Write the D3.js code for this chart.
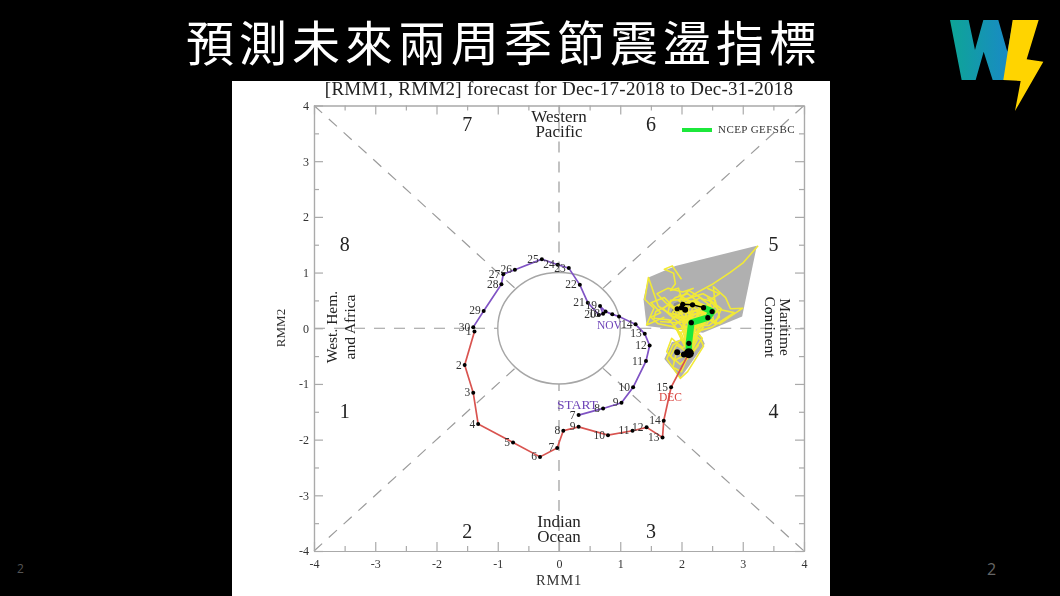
<!DOCTYPE html>
<html><head><meta charset="utf-8">
<script src="https://cdn.jsdelivr.net/npm/d3@7"></script>
<style>html,body{margin:0;padding:0;background:#000;overflow:hidden}svg{display:block}</style>
</head><body><svg id="c" width="1060" height="596"></svg>
<script>
const slideTitle = "預測未來兩周季節震盪指標";
const chartTitle = "[RMM1, RMM2] forecast for Dec-17-2018 to Dec-31-2018";
const majorTicks = [-4,-3,-2,-1,0,1,2,3,4];
const minorTicks = [-3.5,-2.5,-1.5,-0.5,0.5,1.5,2.5,3.5];

const purpleLabels = ["7","8","9","10","11","12","13","14","","","","19","18","20","21","22","23","24","25","26","27","28","29","30"];
const purpleX = [0.32,0.72,1.02,1.21,1.42,1.48,1.40,1.25,0.98,0.87,0.76,0.67,0.72,0.65,0.47,0.34,0.16,-0.02,-0.28,-0.72,-0.91,-0.94,-1.23,-1.40];
const purpleY = [-1.56,-1.44,-1.34,-1.06,-0.59,-0.31,-0.10,0.07,0.21,0.25,0.30,0.40,0.26,0.24,0.46,0.78,1.08,1.14,1.24,1.05,0.97,0.79,0.31,0.02];

const redLabels = ["1","2","3","4","5","6","7","8","9","10","11","12","13","14","15",""];
const redX = [-1.38,-1.54,-1.40,-1.32,-0.75,-0.31,-0.03,0.07,0.32,0.80,1.20,1.43,1.69,1.71,1.83,2.12];
const redY = [-0.06,-0.66,-1.16,-1.72,-2.05,-2.31,-2.15,-1.84,-1.77,-1.92,-1.84,-1.78,-1.96,-1.66,-1.06,-0.45];

const meanX = [2.12,2.12,2.16,2.43,2.50,2.36,2.18,2.02,2.00,1.93];
const meanY = [-0.45,-0.27,0.10,0.19,0.30,0.37,0.42,0.43,0.37,0.35];
const extraDotX = [1.93,2.04,2.06];
const extraDotY = [-0.43,-0.47,0.33];

const upperHull = [[3.23,1.48],[2.99,0.21],[2.35,-0.08],[1.43,0.04],[1.38,0.52],[1.46,0.91],[1.90,1.12]];
const lowerHull = [[1.72,-0.55],[1.98,-0.9],[2.38,-0.28],[2.30,-0.10],[1.84,-0.25]];

const memberTracks = [
 [[2.12,-0.45],[2.15,0.0],[2.0,0.45],[2.25,0.64],[2.52,0.80],[2.79,1.0],[3.01,1.18],[3.25,1.48]],
 [[2.12,-0.45],[2.2,0.1],[2.0,0.55],[1.95,0.72],[1.82,0.68],[1.90,0.80],[1.87,0.99],[1.72,1.06],[1.85,1.12],[2.0,0.88]],
 [[2.12,-0.45],[2.0,0.05],[1.75,0.30],[1.62,0.40],[1.46,0.91],[1.40,0.52],[1.55,0.36],[1.43,0.06],[1.72,0.20]],
 [[2.12,-0.45],[2.3,0.0],[2.55,0.42],[2.52,0.75],[2.72,0.55],[2.80,0.35],[3.0,0.36],[2.62,0.08],[2.3,0.2]],
 [[2.12,-0.45],[2.25,-0.15],[2.32,-0.22],[2.36,-0.32],[2.1,-0.78],[1.98,-0.9],[1.76,-0.55],[1.86,-0.30],[2.0,-0.2]],
 [[2.12,-0.45],[1.92,-0.30],[1.82,-0.50],[1.98,-0.65],[2.15,-0.48],[2.28,-0.30]],
 [[2.12,-0.45],[2.05,-0.12],[2.28,-0.08],[2.36,0.02],[2.1,0.12],[1.9,0.1],[1.65,0.12]],
 [[2.12,-0.45],[2.0,-0.1],[1.86,0.03],[2.05,0.2],[1.75,0.45],[1.6,0.62],[1.78,0.72],[2.02,0.65],[2.2,0.72]],
 [[2.12,-0.45],[2.2,0.05],[2.45,0.05],[2.62,0.2],[2.55,0.5],[2.35,0.62],[2.15,0.55],[1.95,0.5]],
 [[2.12,-0.45],[2.1,0.1],[1.85,0.22],[1.7,0.35],[1.9,0.55],[2.1,0.62],[2.3,0.45],[2.5,0.35],[2.45,0.12]],
 [[2.12,-0.45],[2.25,0.1],[2.4,0.3],[2.2,0.5],[1.98,0.42],[1.85,0.28],[2.05,0.15],[2.3,0.2],[2.48,0.45]],
 [[2.12,-0.45],[2.05,0.08],[2.2,0.2],[2.35,0.12],[2.58,0.3],[2.42,0.42],[2.2,0.3],[2.0,0.3],[1.78,0.1]],
 [[2.12,-0.45],[2.18,0.0],[2.0,0.2],[1.78,0.28],[1.82,0.5],[2.05,0.52],[2.28,0.38],[2.45,0.25],[2.25,0.05]],
 [[2.12,-0.45],[2.12,-0.05],[2.3,0.15],[2.52,0.15],[2.48,0.4],[2.3,0.55],[2.1,0.42],[1.9,0.38],[1.92,0.18]],
 [[2.12,-0.45],[2.2,-0.1],[2.08,0.15],[2.22,0.32],[2.4,0.22],[2.55,0.08],[2.65,0.35],[2.42,0.55]],
 [[2.12,-0.45],[1.95,-0.05],[1.8,0.15],[1.55,0.18],[1.58,0.3],[1.8,0.42],[2.0,0.25],[2.15,0.4],[2.35,0.28]],
 [[2.12,-0.45],[2.22,-0.02],[2.42,0.2],[2.28,0.42],[2.05,0.35],[2.2,0.15],[2.38,0.35],[2.15,0.48],[1.95,0.6]],
 [[2.12,-0.45],[2.02,-0.25],[1.95,-0.08],[2.2,-0.02],[2.34,-0.18],[2.2,-0.4],[2.05,-0.6],[2.15,-0.3]],
 [[2.12,-0.45],[1.88,-0.58],[1.76,-0.42],[1.84,-0.18],[2.02,-0.35],[2.2,-0.18],[2.3,-0.02]],
 [[2.12,-0.45],[2.0,-0.78],[1.86,-0.7],[1.92,-0.42],[2.1,-0.55],[2.26,-0.2],[2.1,0.02],[1.92,-0.02]],
 [[2.12,-0.45],[2.28,-0.05],[2.5,0.02],[2.72,0.18],[2.86,0.28],[2.6,0.34],[2.45,0.5],[2.62,0.62],[2.42,0.72]],
 [[2.12,-0.45],[1.9,0.02],[1.62,0.08],[1.5,0.2],[1.66,0.28],[1.5,0.46],[1.72,0.55],[1.9,0.35],[2.1,0.28]],
 [[2.12,-0.45],[2.02,0.12],[2.12,0.35],[1.95,0.5],[2.12,0.68],[2.35,0.52],[2.5,0.48],[2.38,0.28],[2.18,0.12]],
 [[2.12,-0.45],[2.3,0.08],[2.48,0.24],[2.42,0.08],[2.2,0.06],[2.02,0.02],[2.08,0.28],[2.32,0.34],[2.22,0.5]],
 [[2.12,-0.45],[2.15,0.05],[2.28,0.28],[2.1,0.22],[1.94,0.18],[2.02,0.4],[2.26,0.46],[2.44,0.34],[2.3,0.12]],
 [[2.12,-0.45],[2.08,-0.02],[2.34,0.06],[2.5,0.22],[2.3,0.3],[2.12,0.18],[2.2,0.42],[2.02,0.46],[1.86,0.36]]
];
const darkMemberFill = [[1.88,0.45],[2.05,0.52],[1.98,0.30],[1.82,0.25]];

const zoneNumbers = [["7",-1.5,3.65],["6",1.5,3.65],["8",-3.5,1.5],["5",3.5,1.5],["1",-3.5,-1.5],["4",3.5,-1.5],["2",-1.5,-3.65],["3",1.5,-3.65]];

const svg = d3.select("#c");
const defs = svg.append("defs");
defs.append("filter").attr("id","soft").attr("x","-5%").attr("y","-5%").attr("width","110%").attr("height","110%")
  .append("feGaussianBlur").attr("stdDeviation",0.55);
const grad = defs.append("linearGradient").attr("id","wg");
grad.append("stop").attr("offset","0").attr("stop-color","#0ea596");
grad.append("stop").attr("offset","1").attr("stop-color","#1a88c9");

// slide background
svg.append("rect").attr("width",1060).attr("height",596).attr("fill","#000");
svg.append("text").attr("x",186).attr("y",61)
  .attr("font-family","'Noto Sans CJK TC'").attr("font-size",48).attr("font-weight",400)
  .attr("letter-spacing",5).attr("fill","#fff").attr("filter","url(#soft)").text(slideTitle);
svg.append("text").attr("x",17).attr("y",573).attr("font-family","'Open Sans'").attr("font-size",12).attr("fill","#555").text("2");
svg.append("text").attr("x",987).attr("y",575).attr("font-family","'Open Sans'").attr("font-size",16).attr("fill","#666").text("2");

// logo
const logo = svg.append("g").attr("transform","translate(930,5) scale(0.3333)");
logo.append("path").attr("fill","url(#wg)").attr("d","M60,45L116,45L135,135L160,45L205,45L232,140L250,45L240,130L222,225L188,225L161,140L137,225L95,225Z");
logo.append("path").attr("fill","#ffd400").attr("d","M248,45L326,45L290,163L340,170L255,318L272,228L220,225Z");

// chart panel
svg.append("rect").attr("x",232).attr("y",81).attr("width",598).attr("height",515).attr("fill","#fff");

const x = d3.scaleLinear().domain([-4,4]).range([314,804]);
const y = d3.scaleLinear().domain([-4,4]).range([551,105.5]);
const g = svg.append("g").attr("filter","url(#soft)");
const serif = "'Liberation Serif'";
const line = d3.line().x(d=>x(d[0])).y(d=>y(d[1]));
const zipXY = (a,b)=>a.map((v,i)=>[v,b[i]]);

g.append("text").attr("x",559).attr("y",95).attr("text-anchor","middle").attr("font-family",serif)
 .attr("font-size",19).attr("letter-spacing",0.25).attr("fill","#222").text(chartTitle);

// guide lines
const guides = [[[-4,-4],[-0.72,-0.72]],[[0.72,0.72],[4,4]],[[-4,4],[-0.72,0.72]],[[0.72,-0.72],[4,-4]],[[-4,0],[-1,0]],[[1,0],[4,0]],[[0,-4],[0,-1]],[[0,1],[0,4]]];
g.selectAll(".guide").data(guides).join("path").attr("d",line).attr("fill","none")
 .attr("stroke","#9b9b9b").attr("stroke-width",1.2).attr("stroke-dasharray","11 9");
g.append("ellipse").attr("cx",x(0)).attr("cy",y(0)).attr("rx",x(1)-x(0)).attr("ry",y(0)-y(1))
 .attr("fill","none").attr("stroke","#a6a6a6").attr("stroke-width",1.4);

// axes
function styleAxis(sel){sel.selectAll("path,line").attr("stroke","#aaa").attr("stroke-width",1.2);
 sel.selectAll("text").attr("font-family",serif).attr("font-size",12).attr("fill","#333");}
const fmt = v=>String(v);
const addAxis=(gen,tx,ty,vals,size,pad)=>{
  const a = g.append("g").attr("transform",`translate(${tx},${ty})`)
   .call(gen.tickValues(vals).tickSizeInner(size).tickSizeOuter(0).tickPadding(pad||0).tickFormat(pad?fmt:""));
  styleAxis(a);return a;};
addAxis(d3.axisBottom(x),0,y(-4),majorTicks,-9,8);
addAxis(d3.axisBottom(x),0,y(-4),minorTicks,-5,0);
addAxis(d3.axisTop(x),0,y(4),majorTicks,-9,0);
addAxis(d3.axisTop(x),0,y(4),minorTicks,-5,0);
addAxis(d3.axisLeft(y),x(-4),0,majorTicks,-9,5);
addAxis(d3.axisLeft(y),x(-4),0,minorTicks,-5,0);
addAxis(d3.axisRight(y),x(4),0,majorTicks,-9,0);
addAxis(d3.axisRight(y),x(4),0,minorTicks,-5,0);

g.append("text").attr("x",559).attr("y",585).attr("text-anchor","middle").attr("font-family",serif).attr("font-size",14.5).attr("letter-spacing",0.8).attr("fill","#333").text("RMM1");
g.append("text").attr("transform","translate(285,328) rotate(-90)").attr("text-anchor","middle").attr("font-family",serif).attr("font-size",13).attr("fill","#333").text("RMM2");

// phase numbers and regions
g.selectAll(".zone").data(zoneNumbers).join("text").attr("x",d=>x(d[1])).attr("y",d=>y(d[2])+6)
 .attr("text-anchor","middle").attr("font-family",serif).attr("font-size",20).attr("fill","#222").text(d=>d[0]);
const mid=(t,px,py,fs=17)=>g.append("text").attr("x",px).attr("y",py).attr("text-anchor","middle").attr("font-family",serif).attr("font-size",fs).attr("fill","#222").text(t);
mid("Western",559,122);mid("Pacific",559,137);mid("Indian",559,527);mid("Ocean",559,542);
const rot=(t,px,a)=>g.append("text").attr("transform",`translate(${px},327) rotate(${a})`).attr("text-anchor","middle").attr("font-family",serif).attr("font-size",15.5).attr("fill","#222").text(t);
rot("West. Hem.",337,-90);rot("and Africa",355,-90);rot("Maritime",780,90);rot("Continent",765,90);

// legend
g.append("line").attr("x1",682).attr("x2",712).attr("y1",130).attr("y2",130).attr("stroke","#1fe83a").attr("stroke-width",4);
g.append("text").attr("x",718).attr("y",133).attr("font-family",serif).attr("font-size",11).attr("letter-spacing",0.45).attr("fill","#333").text("NCEP GEFSBC");

// ensemble
g.selectAll(".hull").data([upperHull,lowerHull]).join("path").attr("d",d=>line(d)+"Z").attr("fill","#b0b0b0").attr("stroke","none");
g.append("path").attr("d",line(darkMemberFill)+"Z").attr("fill","#8f8f8f");
g.selectAll(".member").data(memberTracks).join("path").attr("d",line).attr("fill","none")
 .attr("stroke","#f2ea35").attr("stroke-width",1.6).attr("stroke-linejoin","round");

// observed tracks
const purple = zipXY(purpleX,purpleY), red = zipXY(redX,redY), mean = zipXY(meanX,meanY);
g.append("path").attr("d",line(purple)).attr("fill","none").attr("stroke","#7f52c4").attr("stroke-width",1.7);
g.append("path").attr("d",line(red)).attr("fill","none").attr("stroke","#d9534f").attr("stroke-width",1.7);
const dots=(data,r)=>g.selectAll(null).data(data).join("circle").attr("cx",d=>x(d[0])).attr("cy",d=>y(d[1])).attr("r",r).attr("fill","#000");
dots(purple,2);dots(red.slice(0,-1),2);
const labels=(data,names)=>g.selectAll(null).data(data).join("text").attr("x",d=>x(d[0])-3).attr("y",d=>y(d[1])+3.5)
 .attr("text-anchor","end").attr("font-family",serif).attr("font-size",11.5).attr("fill","#333").text((d,i)=>names[i]);
labels(purple,purpleLabels);labels(red,redLabels);

// ensemble mean
g.append("path").attr("d",line(mean.slice(0,6))).attr("fill","none").attr("stroke","#1fe83a").attr("stroke-width",6.5).attr("stroke-linejoin","round");
g.append("path").attr("d",line(mean.slice(5))).attr("fill","none").attr("stroke","#000").attr("stroke-width",1.5);
dots(mean,2.6);dots(zipXY(extraDotX,extraDotY),3);dots([mean[0]],5);

const tag=(t,px,py,c,fs=11.5)=>g.append("text").attr("x",px).attr("y",py).attr("font-family",serif).attr("font-size",fs).attr("fill",c).text(t);
tag("START",557,409,"#6f45b8",13.5);tag("NOV",597,329,"#6f45b8");tag("DEC",659,401,"#d9443f");
</script></body></html>
